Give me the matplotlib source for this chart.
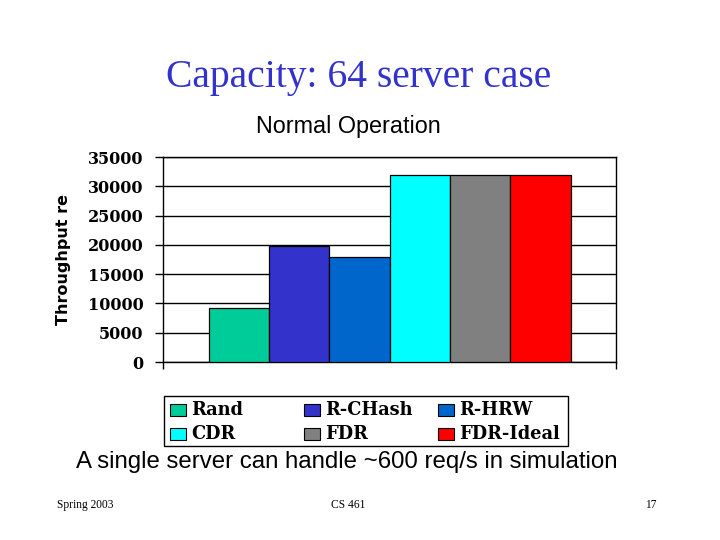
import matplotlib

matplotlib.use("Agg")
import matplotlib.pyplot as plt
from matplotlib.patches import Rectangle

# データ
series = ["Rand", "R-CHash", "R-HRW", "CDR", "FDR", "FDR-Ideal"]
values = [9200, 19800, 17900, 31900, 31900, 31900]
colors = ["#00CC99", "#3333CC", "#0066CC", "#00FFFF", "#808080", "#FF0000"]
yticks = [0, 5000, 10000, 15000, 20000, 25000, 30000, 35000]

W, H = 720, 540
fig = plt.figure(figsize=(7.2, 5.4), dpi=100)
fig.patch.set_facecolor("white")

# タイトル
fig.text(359 / W, 1 - 78 / H, "Capacity: 64 server case", ha="center", va="center",
         fontsize=28.5, color="#3333CC", family="Liberation Serif")
fig.text(348 / W, 1 - 127 / H, "Normal Operation", ha="center", va="center",
         fontsize=16.8, family="Liberation Sans")

ax = fig.add_axes([0.2264, 0.3296, 0.6292, 0.3796])
n = len(series)
xs = [i - (n - 1) / 2 for i in range(n)]
for x, v, c in zip(xs, values, colors):
    ax.bar(x, v, width=1.0, color=c, edgecolor="black", linewidth=0.9, zorder=3)

half = 3.754
ax.set_xlim(-half, half)
ax.set_ylim(0, 35000)
ax.set_yticks(yticks)
ax.set_yticklabels([str(t) for t in yticks], fontsize=11.5,
                   family="DejaVu Serif", fontweight="bold")
ax.set_xticks([-half, half])
ax.set_xticklabels([])
ax.tick_params(axis="y", direction="out", length=6, width=1, pad=8)
ax.tick_params(axis="x", direction="out", length=5, width=1)
ax.grid(axis="y", color="black", linewidth=1, zorder=0)
for s in ax.spines.values():
    s.set_linewidth(1)
    s.set_color("black")

ax.set_ylabel("Throughput re", fontsize=11.5, family="DejaVu Sans",
              fontweight="bold")
ax.yaxis.set_label_coords(-0.2025, 0.5)

# 凡例（列幅を揃えるため手で並べる）
fig.add_artist(Rectangle((164 / W, 1 - 446 / H), (568 - 164) / W, 50 / H,
                         transform=fig.transFigure, facecolor="white",
                         edgecolor="black", linewidth=1))
col_x = [170, 304, 438]
row_y = [410, 434]
for k, (name, c) in enumerate(zip(series, colors)):
    px = col_x[k % 3]
    py = row_y[k // 3]
    fig.add_artist(Rectangle((px / W, 1 - (py + 6) / H), 16 / W, 12 / H,
                             transform=fig.transFigure, facecolor=c,
                             edgecolor="black", linewidth=0.8))
    fig.text((px + 21) / W, 1 - py / H, name, ha="left", va="center",
             fontsize=12.8, family="DejaVu Serif", fontweight="bold")

fig.text(347 / W, 1 - 462 / H, "A single server can handle ~600 req/s in simulation",
         ha="center", va="center", fontsize=17.3, family="Liberation Sans")

# フッター
fig.text(57 / W, 1 - 505 / H, "Spring 2003", ha="left", va="center",
         fontsize=8.3, family="Liberation Serif")
fig.text(348 / W, 1 - 505 / H, "CS 461", ha="center", va="center",
         fontsize=8.3, family="Liberation Serif")
fig.text(657 / W, 1 - 505 / H, "17", ha="right", va="center",
         fontsize=8.3, family="Liberation Serif")

fig.savefig("out.png", dpi=100)
